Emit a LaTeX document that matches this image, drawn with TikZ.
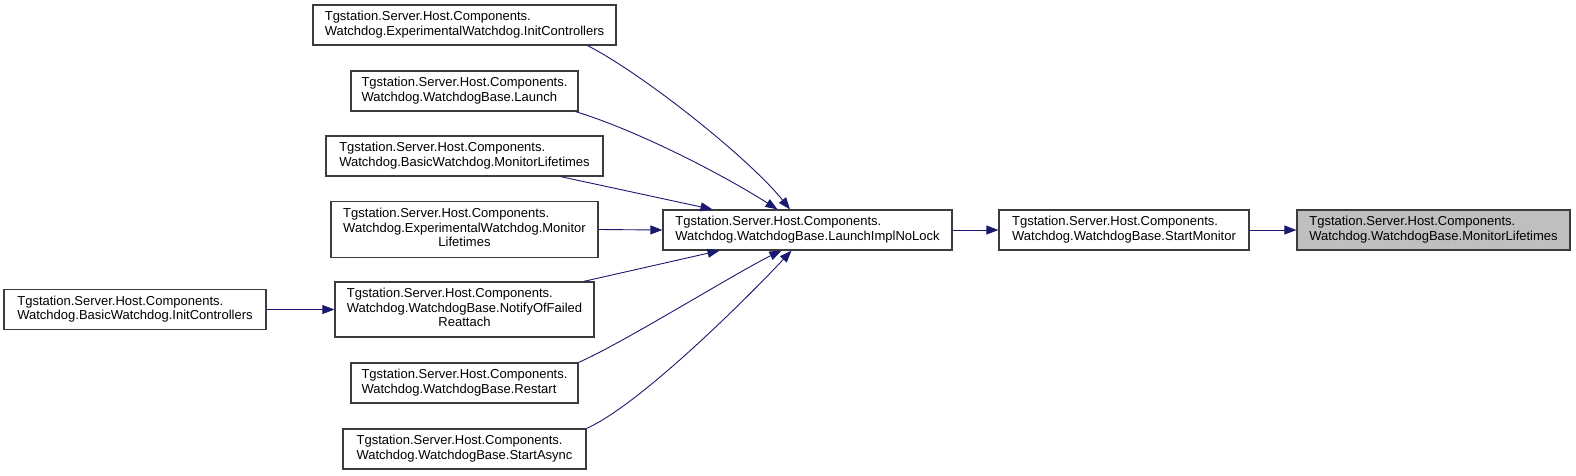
\documentclass[tikz,border=0pt]{standalone}
\usepackage{fontspec}
\setmainfont{Liberation Sans}
\usepackage{tikz}
\usetikzlibrary{arrows.meta}
\definecolor{figNavy}{RGB}{25,25,112}
\definecolor{figTrait}{RGB}{60,60,60}
\definecolor{figGris}{RGB}{191,191,191}
\newcommand{\nomdeux}[2]{\begin{tabular}{@{}l@{}}#1\\#2\end{tabular}}
\newcommand{\nomtrois}[3]{\begin{tabular}{@{}l@{}}#1\\#2\\\multicolumn{1}{@{}c@{}}{#3}\end{tabular}}

\begin{document}
\begin{tikzpicture}[
  x=1pt, y=-1pt,
  every node/.style={font=\fontsize{13}{14.5}\selectfont},
  fonc/.style={draw=figTrait, line width=1.2pt, fill=white, inner sep=2pt,
               minimum height=40pt, align=center},
  courant/.style={fonc, fill=figGris},
  appel/.style={draw=figNavy, line width=0.9pt, -{Triangle[length=12pt,width=9pt]}}
]
\useasboundingbox (0,0) rectangle (1576,475);

% ---- colonne des appelants ----
\node[fonc, minimum width=303pt] (expinit) at (464.5,25)
     {\nomdeux{Tgstation.Server.Host.Components.}{Watchdog.ExperimentalWatchdog.InitControllers}};
\node[fonc, minimum width=227pt] (launch) at (464.5,91)
     {\nomdeux{Tgstation.Server.Host.Components.}{Watchdog.WatchdogBase.Launch}};
\node[fonc, minimum width=277pt] (basicmon) at (464.5,156)
     {\nomdeux{Tgstation.Server.Host.Components.}{Watchdog.BasicWatchdog.MonitorLifetimes}};
\node[fonc, minimum width=267pt, minimum height=56pt] (expmon) at (464.5,229.5)
     {\nomtrois{Tgstation.Server.Host.Components.}{Watchdog.ExperimentalWatchdog.Monitor}{Lifetimes}};
\node[fonc, minimum width=259pt, minimum height=55pt] (notify) at (464.5,309.5)
     {\nomtrois{Tgstation.Server.Host.Components.}{Watchdog.WatchdogBase.NotifyOfFailed}{Reattach}};
\node[fonc, minimum width=227pt] (restart) at (464.5,383)
     {\nomdeux{Tgstation.Server.Host.Components.}{Watchdog.WatchdogBase.Restart}};
\node[fonc, minimum width=243pt] (startasync) at (464.5,449)
     {\nomdeux{Tgstation.Server.Host.Components.}{Watchdog.WatchdogBase.StartAsync}};
\node[fonc, minimum width=262pt] (basicinit) at (135,309.5)
     {\nomdeux{Tgstation.Server.Host.Components.}{Watchdog.BasicWatchdog.InitControllers}};

% ---- chaine principale ----
\node[fonc, minimum width=289pt] (implnolock) at (807.5,230)
     {\nomdeux{Tgstation.Server.Host.Components.}{Watchdog.WatchdogBase.LaunchImplNoLock}};
\node[fonc, minimum width=250pt] (startmon) at (1124,230)
     {\nomdeux{Tgstation.Server.Host.Components.}{Watchdog.WatchdogBase.StartMonitor}};
\node[courant, minimum width=273pt] (monlife) at (1433.5,230)
     {\nomdeux{Tgstation.Server.Host.Components.}{Watchdog.WatchdogBase.MonitorLifetimes}};

% ---- appels ----
\draw[appel] ([xshift=-29pt]expinit.south east) .. controls +(58,30) and +(-40,-50) .. ([xshift=-17.5pt]implnolock.north);
\draw[appel] ([xshift=-3pt]launch.south east) .. controls +(62,19) and +(-55,-35) .. ([xshift=-30pt]implnolock.north);
\draw[appel] ([xshift=-43pt]basicmon.south east) -- ([xshift=-95pt]implnolock.north);
\draw[appel] (expmon.east) -- (implnolock.west);
\draw[appel] ([xshift=-11pt]notify.north east) -- ([xshift=-88pt]implnolock.south);
\draw[appel] (restart.north east) .. controls +(42,-18) and +(-42,20) .. ([xshift=-26pt]implnolock.south);
\draw[appel] (startasync.north east) .. controls +(54,-24) and +(-42,45) .. ([xshift=-16pt]implnolock.south);
\draw[appel] (basicinit.east) -- (notify.west);
\draw[appel] (implnolock.east) -- (startmon.west);
\draw[appel] (startmon.east) -- (monlife.west);

\end{tikzpicture}
\end{document}
